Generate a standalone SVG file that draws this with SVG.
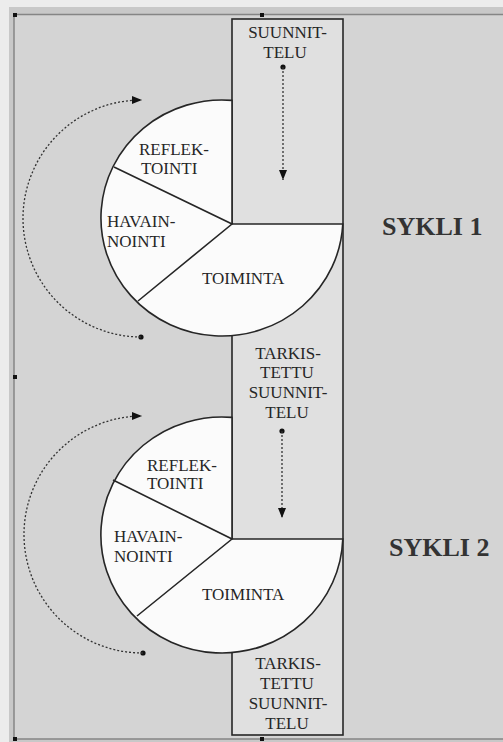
<svg xmlns="http://www.w3.org/2000/svg" width="503" height="742" viewBox="0 0 503 742">
<style>
.lbl{font-family:"Liberation Serif","Times New Roman",serif;font-size:17px;fill:#262626}
.mid{text-anchor:middle}
.big{font-family:"Liberation Serif","Times New Roman",serif;font-size:26px;font-weight:bold;fill:#333}
.pie{fill:#fbfbfb;stroke:#262626;stroke-width:1.6}
.spoke{stroke:#262626;stroke-width:1.6;fill:none}
.dot{stroke:#333;stroke-width:1.3;stroke-dasharray:2 2;fill:none}
.mk{fill:#111}
</style>
<defs>
<marker id="ah" viewBox="0 0 10 10" refX="10" refY="5" markerWidth="10" markerHeight="10" markerUnits="userSpaceOnUse" orient="auto">
<path d="M0,1 L10,5 L0,9 Z" fill="#111"/>
</marker>
</defs>
<g id="background">
<rect x="0" y="0" width="503" height="742" fill="#ececec"/>
<rect x="9" y="7" width="494" height="735" fill="#c8c8c8"/>
<rect x="14" y="14.5" width="492" height="724.5" fill="#d4d4d4" stroke="#858585" stroke-width="1.5"/>
<rect class="mk" x="13" y="13" width="4" height="4"/>
<rect class="mk" x="260" y="13" width="4" height="4"/>
<rect class="mk" x="13" y="375" width="4" height="4"/>
<rect class="mk" x="13" y="737" width="4" height="4"/>
<rect class="mk" x="260" y="737" width="4" height="4"/>
</g>
<g id="planning-column">
<rect x="232" y="19" width="111" height="716" fill="#e0e0e0" stroke="#262626" stroke-width="1.6"/>
<text class="lbl mid" x="287.5" y="38">SUUNNIT-</text>
<text class="lbl mid" x="285" y="58">TELU</text>
<text class="lbl mid" x="288" y="359">TARKIS-</text>
<text class="lbl mid" x="287" y="378">TETTU</text>
<text class="lbl mid" x="288" y="398">SUUNNIT-</text>
<text class="lbl mid" x="287" y="418">TELU</text>
<text class="lbl mid" x="288" y="669">TARKIS-</text>
<text class="lbl mid" x="287" y="689">TETTU</text>
<text class="lbl mid" x="288" y="709">SUUNNIT-</text>
<text class="lbl mid" x="287" y="729">TELU</text>
</g>
<g id="cycle1">
<path class="pie" d="M232,100.4 A121,118 0 1 0 342.8,224 L232,224 Z"/>
<path class="spoke" d="M114,167 L232,224 L138,301"/>
<text class="lbl" x="139" y="155">REFLEK-</text>
<text class="lbl" x="141" y="174">TOINTI</text>
<text class="lbl" x="107" y="227">HAVAIN-</text>
<text class="lbl" x="107" y="247">NOINTI</text>
<text class="lbl" x="202" y="284">TOIMINTA</text>
<text class="big" x="382" y="235">SYKLI 1</text>
</g>
<g id="cycle2">
<path class="pie" d="M232,417.4 A121,118 0 1 0 342.8,539 L232,539 Z"/>
<path class="spoke" d="M113,480 L232,539 L137,616"/>
<text class="lbl" x="147" y="471">REFLEK-</text>
<text class="lbl" x="147" y="489">TOINTI</text>
<text class="lbl" x="114" y="542">HAVAIN-</text>
<text class="lbl" x="114" y="562">NOINTI</text>
<text class="lbl" x="202" y="600">TOIMINTA</text>
<text class="big" x="389" y="556">SYKLI 2</text>
</g>
<g id="connectors">
<circle class="mk" cx="283" cy="67" r="2.6"/>
<path class="dot" d="M283,67 L283,180" marker-end="url(#ah)"/>
<circle class="mk" cx="282" cy="431" r="2.6"/>
<path class="dot" d="M282,431 L282,518" marker-end="url(#ah)"/>
<circle class="mk" cx="141" cy="337" r="2.6"/>
<path class="dot" d="M141,337 A118.5,118.5 0 0 1 142,100" marker-end="url(#ah)"/>
<circle class="mk" cx="143" cy="653" r="2.6"/>
<path class="dot" d="M143,653 A118.5,118.5 0 0 1 142,416" marker-end="url(#ah)"/>
</g>
</svg>
